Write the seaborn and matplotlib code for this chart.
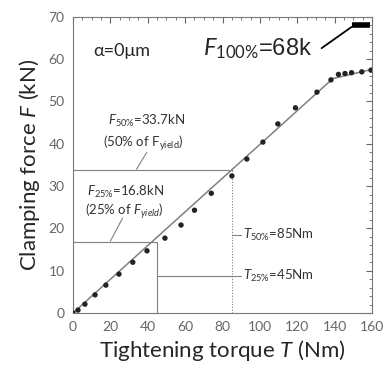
import matplotlib
matplotlib.use('Agg')
import matplotlib.pyplot as plt
from matplotlib.ticker import MultipleLocator
import numpy as np
import pandas as pd
import seaborn as sns

# measured points (torque Nm, clamping force kN)
torque = [0, 2.7, 6.4, 11.8, 17.6, 24.6, 32, 39.6, 49.2, 57.8, 65, 74, 85,
          93, 101.6, 109.6, 119, 130.5, 138, 142, 145.5, 149, 154.5, 159.4]
force = [0, 0.7, 2.1, 4.3, 6.6, 9.2, 12.0, 14.7, 17.7, 20.8, 24.3, 28.3, 32.4,
         36.4, 40.4, 44.7, 48.5, 52.2, 55.1, 56.4, 56.6, 56.8, 57.0, 57.4]

# fitted line
fit_t = [0, 139, 160]
fit_f = [0, 55.4, 57.6]

# reference levels
t25, f25 = 45, 16.8
t50, f50 = 85, 33.7
f100 = 68

sns.set_style('white')
plt.rcParams['font.family'] = ['Lato', 'DejaVu Sans']
plt.rcParams['mathtext.fontset'] = 'custom'
plt.rcParams['mathtext.it'] = 'Lato:italic'
plt.rcParams['mathtext.rm'] = 'Lato'

fig = plt.figure(figsize=(3.84, 3.74), dpi=100)
ax = fig.add_axes([0.19, 0.163, 0.779, 0.792])

df = pd.DataFrame({'T': torque, 'F': force})
fit_df = pd.DataFrame({'T': fit_t, 'F': fit_f})

sns.lineplot(data=fit_df, x='T', y='F', ax=ax, color='#808080', lw=1.1)
sns.scatterplot(data=df, x='T', y='F', ax=ax, color='#222222', s=15,
                edgecolor='none', zorder=3)

# helper lines
ax.plot([0, t50], [f50, f50], color='#808080', lw=0.8)
ax.plot([t50, t50], [0, f50], color='#808080', lw=0.8, ls=(0, (1, 1.5)))
ax.plot([0, t25], [f25, f25], color='#808080', lw=0.8)
ax.plot([t25, t25], [0, f25], color='#808080', lw=0.8)
ax.plot([t25, 90], [8.7, 8.7], color='#808080', lw=0.8)
ax.plot([t50, 90], [18.4, 18.4], color='#808080', lw=0.8)

# 100% bar with leader line
ax.plot([149, 159], [f100, f100], color='black', lw=4, solid_capstyle='butt')
ax.plot([133, 149], [62.6, 67.6], color='black', lw=1.3, zorder=10)

ax.text(11, 62, 'α=0μm', fontsize=13, ha='left', va='center')
ax.text(128, 62.5, r'$F_{100\%}$=68k', fontsize=17, ha='right', va='center',
        family=['Liberation Sans'])
ax.text(18.5, 45.5, r'$F_{50\%}$=33.7kN', fontsize=9.5, ha='left',
        va='center', color='#333333')
ax.text(16, 40.2, r'(50% of $\mathregular{F_{yield}}$)', fontsize=9.5,
        ha='left', va='center', color='#333333')
ax.text(7.5, 28.5, r'$F_{25\%}$=16.8kN', fontsize=9.5, ha='left',
        va='center', color='#333333')
ax.text(6.5, 24, r'(25% of $F_{yield}$)', fontsize=9.5, ha='left',
        va='center', color='#333333')
ax.plot([34, 39.5], [34, 38], color='#808080', lw=0.8)
ax.plot([20, 26.5], [17, 22.4], color='#808080', lw=0.8)
ax.text(91, 18.4, r'$T_{50\%}$=85Nm', fontsize=9.5, ha='left', va='center',
        color='#333333')
ax.text(91, 8.7, r'$T_{25\%}$=45Nm', fontsize=9.5, ha='left', va='center',
        color='#333333')

ax.set_xlim(0, 160)
ax.set_ylim(0, 70)
ax.xaxis.set_major_locator(MultipleLocator(20))
ax.xaxis.set_minor_locator(MultipleLocator(5))
ax.yaxis.set_major_locator(MultipleLocator(10))
ax.yaxis.set_minor_locator(MultipleLocator(2))
ax.tick_params(which='both', direction='in', top=True, right=True,
               color='#666666', labelcolor='#666666', labelsize=10)
ax.tick_params(which='major', length=4, pad=6)
ax.tick_params(which='minor', length=2.5)
for s in ax.spines.values():
    s.set_color('#777777')
    s.set_linewidth(0.8)

ax.set_xlabel('Tightening torque $T$ (Nm)', fontsize=16, labelpad=3)
ax.set_ylabel('Clamping force $F$ (kN)', fontsize=16, labelpad=5)

fig.savefig('out.png', dpi=100)
